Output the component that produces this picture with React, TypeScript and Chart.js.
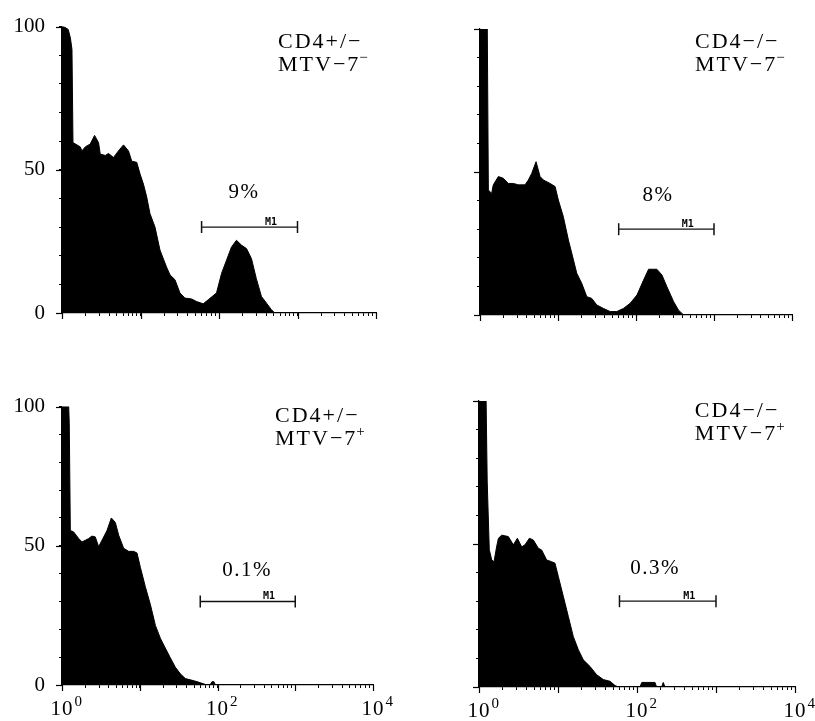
import React, { useEffect, useRef } from "react";
import { Chart, registerables } from "chart.js";

Chart.register(...registerables);

// ---------- data (fluorescence intensity, % of max count) ----------
const P1_X = [1, 1.05, 1.2, 1.28, 1.34, 1.38, 1.71, 1.79, 1.98, 2.29, 2.6, 2.92, 3.07, 3.55, 3.91, 4.53, 5.24, 6.07, 7.03, 7.74, 8.96, 9.88, 10.9, 12.0, 13.2, 15.3, 17.7, 21.5, 23.8, 27.5, 31.8, 36.8, 44.8, 51.8, 62.9, 72.8, 92.9, 108, 125, 144, 167, 193, 224, 259, 299, 347, 401, 464, 512, 10000];
const P1_Y = [100, 100, 99, 96, 92, 59.5, 58, 56.6, 58, 59, 62, 59.5, 55.5, 55, 55.7, 54.3, 56.6, 58.7, 56.6, 53, 52.6, 48.5, 45, 40.5, 34.7, 30, 22, 16, 13.3, 11.6, 7, 5.2, 4.9, 4, 3.2, 4.6, 7, 13.9, 18.5, 23, 25.4, 23.7, 22.5, 19, 12, 5.8, 3.5, 1.2, 0, 0];

const P2_X = [1, 1.24, 1.28, 1.41, 1.48, 1.72, 1.99, 2.31, 2.68, 3.1, 3.78, 4.17, 4.6, 5.23, 5.89, 6.5, 7.91, 9.18, 10.1, 11.7, 13.6, 15.8, 17.4, 20.2, 23.4, 27.1, 31.4, 38.3, 46.6, 56.7, 69.1, 84.2, 103, 125, 145, 185, 215, 249, 303, 351, 407, 10000];
const P2_Y = [100, 100, 43.7, 42.5, 45.5, 48.4, 47.8, 46, 46, 45.5, 45.5, 47.2, 49.5, 53.6, 48.4, 47.2, 46, 44.9, 40.2, 34.4, 26.2, 19.2, 14.6, 11, 6.4, 5.8, 3.5, 2.3, 1.2, 1.2, 2.3, 4.1, 7, 12.2, 16, 16, 14, 9.9, 4.7, 1.7, 0, 0];

const P3_X = [1, 1.22, 1.24, 1.28, 1.41, 1.64, 1.81, 2.0, 2.2, 2.43, 2.68, 2.96, 3.27, 3.79, 4.31, 4.85, 5.36, 6.21, 7.2, 8.35, 9.22, 10.2, 11.8, 13.7, 15.9, 18.4, 21.3, 24.7, 28.7, 33.3, 38.6, 47, 54.5, 63.2, 73.3, 80, 85, 90, 93.8, 10000];
const P3_Y = [100, 100, 94, 55.5, 55, 52.6, 51.4, 52, 52.6, 53.5, 53.2, 49.7, 52, 55.5, 60, 58.4, 53.8, 49.1, 48, 48, 47.4, 42.2, 35.3, 28.9, 21.4, 16.8, 13.3, 9.8, 6.4, 4, 2.3, 1.7, 1.2, 0.6, 0, 0, 1.2, 1.2, 0, 0];

const P4_X = [1, 1.23, 1.27, 1.35, 1.45, 1.55, 1.67, 1.76, 1.94, 2.35, 2.72, 3.06, 3.47, 3.82, 4.34, 4.87, 5.64, 6.21, 7.19, 8.32, 9.16, 10.1, 11.7, 13.5, 15.6, 18.1, 20.9, 25.4, 30.8, 37.5, 45.5, 52.7, 58, 109, 115, 169, 177, 205, 215, 226, 10000];
const P4_Y = [100, 100, 72, 48, 44.4, 43.8, 49, 52, 53.1, 52.6, 49.7, 52, 49, 49.7, 52, 51.4, 48.5, 47.9, 44.4, 43.8, 43.3, 38.6, 31.6, 24.7, 17.7, 13, 9.5, 7.2, 4.3, 2.6, 2, 0.5, 0, 0, 1.6, 1.6, 0, 0, 1.6, 0, 0];

const PERCENTS = ["9%", "8%", "0.1%", "0.3%"];
const LABEL_LINE1 = ["CD4+/\u2212", "CD4\u2212/\u2212", "CD4+/\u2212", "CD4\u2212/\u2212"];
const LABEL_LINE2 = ["MTV\u22127", "MTV\u22127", "MTV\u22127", "MTV\u22127"];
const LABEL_SUP = ["\u2212", "\u2212", "+", "+"];

const M1_RANGE = [60, 1000];
const M1_LEVEL = 30;
const M1_TEXT_X = 460;

const X_LABEL_VALUES = [1, 100, 10000];
const X_LABEL_EXPONENTS = ["0", "2", "4"];
const Y_LABEL_VALUES = [0, 50, 100];
const DECADES = [1, 10, 100, 1000, 10000];
const MULTIPLIERS = [1, 2, 3, 4, 5, 6, 7, 8, 9];

// ---------- layout ----------
const SERIF = "'Liberation Serif', 'Times New Roman', serif";

type PanelCfg = {
  left: number; top: number; width: number; height: number;
  area: { l: number; t: number; r: number; b: number };
  showY: boolean; showX: boolean;
  xs: number[]; ys: number[];
  idx: number;
  percentPos: [number, number];
  labelPos: [number, number];
};

const PANELS: PanelCfg[] = [
  { left: 0, top: 0, width: 410, height: 340, area: { l: 62, t: 25, r: 376, b: 313 }, showY: true, showX: false, xs: P1_X, ys: P1_Y, idx: 0, percentPos: [208, 40], labelPos: [565, 92.4] },
  { left: 410, top: 0, width: 405, height: 340, area: { l: 70, t: 29, r: 382, b: 315 }, showY: false, showX: false, xs: P2_X, ys: P2_Y, idx: 1, percentPos: [192, 40], labelPos: [570, 93.4] },
  { left: 0, top: 380, width: 410, height: 341, area: { l: 62, t: 17, r: 373, b: 305 }, showY: true, showX: true, xs: P3_X, ys: P3_Y, idx: 2, percentPos: [240, 39], labelPos: [550, 94.4] },
  { left: 410, top: 380, width: 405, height: 341, area: { l: 69, t: 21, r: 385, b: 307 }, showY: false, showX: true, xs: P4_X, ys: P4_Y, idx: 3, percentPos: [169, 39.5], labelPos: [540, 94.4] },
];

function Panel({ cfg }: { cfg: PanelCfg }) {
  const ref = useRef<HTMLCanvasElement>(null);

  useEffect(() => {
    const canvas = ref.current;
    if (!canvas) return;

    const xTicks: number[] = [];
    DECADES.slice(0, 4).forEach((d) => MULTIPLIERS.forEach((m) => xTicks.push(d * m)));
    xTicks.push(10000);

    const overlay = {
      id: "overlay" + cfg.idx,
      afterDraw(chart: any) {
        const c = chart.ctx as CanvasRenderingContext2D;
        const xs = chart.scales.x;
        const ys = chart.scales.y;
        const area = chart.chartArea;
        c.save();
        c.strokeStyle = "#000";
        c.fillStyle = "#000";
        c.lineWidth = 1.2;
        // longer decade ticks
        DECADES.forEach((v) => {
          const px = Math.round(xs.getPixelForValue(v)) + 0.5;
          c.beginPath();
          c.moveTo(px, area.bottom);
          c.lineTo(px, area.bottom + 6);
          c.stroke();
        });
        Y_LABEL_VALUES.forEach((v) => {
          const py = Math.round(ys.getPixelForValue(v)) + 0.5;
          c.beginPath();
          c.moveTo(area.left - 6, py);
          c.lineTo(area.left, py);
          c.stroke();
        });
        // x labels 10^n
        if (cfg.showX) {
          X_LABEL_VALUES.forEach((v, i) => {
            const px = xs.getPixelForValue(v);
            c.font = `21px ${SERIF}`;
            (c as any).letterSpacing = "1px";
            c.textAlign = "center";
            c.textBaseline = "alphabetic";
            const base = "10";
            const w = c.measureText(base).width;
            const by = area.bottom + 30;
            c.fillText(base, px, by);
            c.font = `15px ${SERIF}`;
            (c as any).letterSpacing = "0px";
            c.textAlign = "left";
            c.fillText(X_LABEL_EXPONENTS[i], px + w / 2 + 1, by - 9);
          });
        }
        // percent
        c.font = `21px ${SERIF}`;
        (c as any).letterSpacing = "1.5px";
        c.textAlign = "center";
        c.textBaseline = "alphabetic";
        c.fillText(PERCENTS[cfg.idx], xs.getPixelForValue(cfg.percentPos[0]), ys.getPixelForValue(cfg.percentPos[1]));
        // M1 text
        c.font = `bold 10px 'DejaVu Sans Mono', monospace`;
        (c as any).letterSpacing = "0px";
        c.fillText("M1", xs.getPixelForValue(M1_TEXT_X), ys.getPixelForValue(M1_LEVEL) - 2);
        // corner label
        const lx = xs.getPixelForValue(cfg.labelPos[0]);
        const ly = ys.getPixelForValue(cfg.labelPos[1]);
        c.font = `22px ${SERIF}`;
        (c as any).letterSpacing = "2px";
        c.textAlign = "left";
        c.fillText(LABEL_LINE1[cfg.idx], lx, ly);
        c.fillText(LABEL_LINE2[cfg.idx], lx, ly + 23);
        const w2 = c.measureText(LABEL_LINE2[cfg.idx]).width;
        c.font = `15px ${SERIF}`;
        (c as any).letterSpacing = "0px";
        c.fillText(LABEL_SUP[cfg.idx], lx + w2 - 1, ly + 23 - 9);
        c.restore();
      },
    };

    const chart = new Chart(canvas, {
      type: "line",
      data: {
        datasets: [
          {
            data: cfg.xs.map((x, i) => ({ x, y: cfg.ys[i] })),
            borderColor: "#000",
            backgroundColor: "#000",
            fill: "origin",
            borderWidth: 1,
            pointRadius: 0,
            tension: 0,
          },
          {
            data: M1_RANGE.map((x) => ({ x, y: M1_LEVEL })),
            borderColor: "#111",
            backgroundColor: "#111",
            borderWidth: 1.3,
            fill: false,
            pointStyle: "line",
            rotation: 90,
            pointRadius: 6,
            pointBorderWidth: 1.5,
            pointBorderColor: "#111",
          },
        ],
      } as any,
      options: {
        animation: false,
        responsive: false,
        maintainAspectRatio: false,
        events: [],
        layout: { padding: { top: cfg.area.t, right: cfg.width - cfg.area.r, left: 0, bottom: 0 } },
        plugins: { legend: { display: false }, tooltip: { enabled: false } },
        scales: {
          x: {
            type: "logarithmic",
            min: 1,
            max: 10000,
            afterBuildTicks: (s: any) => {
              s.ticks = xTicks.map((v) => ({ value: v }));
            },
            afterFit: (s: any) => {
              s.height = cfg.height - cfg.area.b;
            },
            grid: { drawOnChartArea: false, tickLength: 3, color: "#000", lineWidth: 1 },
            border: { color: "#000", width: 1.2 },
            ticks: { display: false },
          },
          y: {
            type: "linear",
            min: 0,
            max: 100,
            afterFit: (s: any) => {
              s.width = cfg.area.l;
            },
            grid: { drawOnChartArea: false, tickLength: 3, color: "#000", lineWidth: 1 },
            border: { color: "#000", width: 1.2 },
            ticks: {
              display: cfg.showY,
              stepSize: 10,
              autoSkip: false,
              padding: 14,
              color: "#000",
              font: { family: SERIF, size: 21 },
              callback: (v: any) => (Y_LABEL_VALUES.includes(Number(v)) ? String(v) : ""),
            },
          },
        },
      } as any,
      plugins: [overlay],
    });
    return () => chart.destroy();
  }, [cfg]);

  return (
    <div style={{ position: "absolute", left: cfg.left, top: cfg.top, width: cfg.width, height: cfg.height }}>
      <canvas ref={ref} width={cfg.width} height={cfg.height} style={{ width: cfg.width, height: cfg.height, display: "block" }} />
    </div>
  );
}

export default function App() {
  return (
    <div style={{ position: "absolute", left: 0, top: 0, width: 815, height: 721, background: "#fff", overflow: "hidden" }}>
      {PANELS.map((p) => (
        <Panel key={p.idx} cfg={p} />
      ))}
    </div>
  );
}
